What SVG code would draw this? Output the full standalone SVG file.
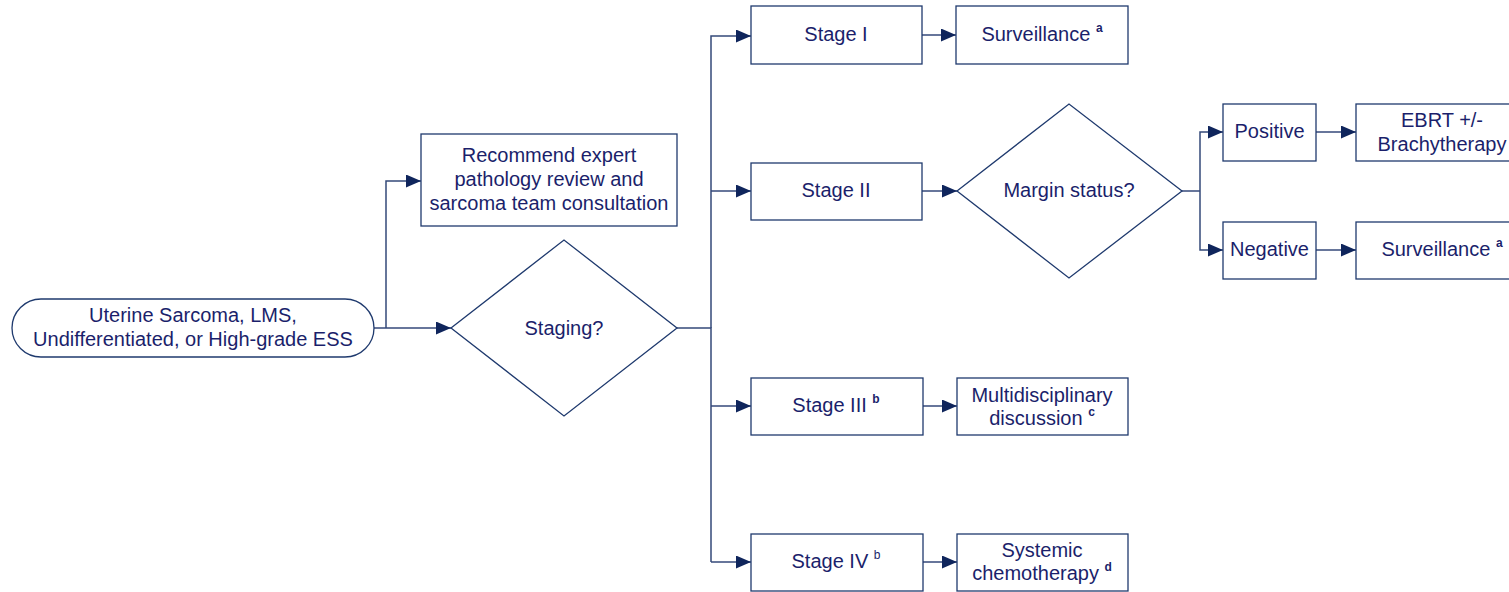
<svg xmlns="http://www.w3.org/2000/svg" width="1509" height="592" viewBox="0 0 1509 592">
<defs>
<marker id="ah" markerUnits="userSpaceOnUse" markerWidth="15" markerHeight="13" refX="15" refY="6.5" orient="auto">
<path d="M0,0 L15,6.5 L0,13 z" fill="#0f255c"/>
</marker>
<style>
.box{fill:#fff;stroke:#1f3a6e;stroke-width:1.3}
.t{font-family:"Liberation Sans",Arial,sans-serif;font-size:20px;fill:#1b1f6b;text-anchor:middle}
.sup{font-size:12px;font-weight:bold}
.supn{font-size:12px}
.c{fill:none;stroke:#34497a;stroke-width:1.5;marker-end:url(#ah)}
.cl{fill:none;stroke:#34497a;stroke-width:1.5}
</style>
</defs>
<rect width="1509" height="592" fill="#fff"/>
<g id="connectors">
<path class="c" d="M374,328 H451"/>
<path class="c" d="M386,328 V181 H421"/>
<path class="cl" d="M677,328 H711 V562"/>
<path class="c" d="M711,328 V36 H751"/>
<path class="c" d="M711,191 H751"/>
<path class="c" d="M711,406 H751"/>
<path class="c" d="M711,562 H751"/>
<path class="c" d="M922,35 H956"/>
<path class="c" d="M922,191 H957"/>
<path class="cl" d="M1182,191 H1200"/>
<path class="c" d="M1200,191 V132 H1223"/>
<path class="c" d="M1200,191 V250 H1223"/>
<path class="c" d="M1316,132 H1356"/>
<path class="c" d="M1316,250 H1356"/>
<path class="c" d="M923,406 H957"/>
<path class="c" d="M923,562 H957"/>
</g>
<g id="start">
<rect class="box" x="12" y="299" width="362" height="58" rx="29" ry="29"/>
<text class="t" x="193" y="322">Uterine Sarcoma, LMS,</text>
<text class="t" x="193" y="346">Undifferentiated, or High-grade ESS</text>
</g>
<g id="recommend">
<rect class="box" x="421" y="134" width="256" height="92"/>
<text class="t" x="549" y="162">Recommend expert</text>
<text class="t" x="549" y="186">pathology review and</text>
<text class="t" x="549" y="210">sarcoma team consultation</text>
</g>
<g id="staging">
<polygon class="box" points="451,328 564,240 677,328 564,416"/>
<text class="t" x="564" y="335">Staging?</text>
</g>
<g id="stage1">
<rect class="box" x="751" y="6" width="171" height="58"/>
<text class="t" x="836" y="41">Stage I</text>
</g>
<g id="surv1">
<rect class="box" x="956" y="6" width="172" height="58"/>
<text class="t" x="1042" y="41">Surveillance <tspan class="sup" dy="-9">a</tspan></text>
</g>
<g id="stage2">
<rect class="box" x="751" y="163" width="171" height="57"/>
<text class="t" x="836" y="197">Stage II</text>
</g>
<g id="margin">
<polygon class="box" points="957,191 1069,104 1182,191 1069,278"/>
<text class="t" x="1069" y="197">Margin status?</text>
</g>
<g id="positive">
<rect class="box" x="1223" y="104" width="93" height="57"/>
<text class="t" x="1269.5" y="138">Positive</text>
</g>
<g id="ebrt">
<rect class="box" x="1356" y="104" width="172" height="57"/>
<text class="t" x="1442" y="127">EBRT +/-</text>
<text class="t" x="1442" y="151">Brachytherapy</text>
</g>
<g id="negative">
<rect class="box" x="1223" y="222" width="93" height="57"/>
<text class="t" x="1269.5" y="256">Negative</text>
</g>
<g id="surv2">
<rect class="box" x="1356" y="222" width="172" height="57"/>
<text class="t" x="1442" y="256">Surveillance <tspan class="sup" dy="-9">a</tspan></text>
</g>
<g id="stage3">
<rect class="box" x="751" y="378" width="172" height="57"/>
<text class="t" x="836" y="412">Stage III <tspan class="sup" dy="-9">b</tspan></text>
</g>
<g id="multi">
<rect class="box" x="957" y="378" width="171" height="57"/>
<text class="t" x="1042" y="402">Multidisciplinary</text>
<text class="t" x="1042" y="425">discussion <tspan class="sup" dy="-9">c</tspan></text>
</g>
<g id="stage4">
<rect class="box" x="751" y="534" width="172" height="57"/>
<text class="t" x="836" y="568">Stage IV <tspan class="supn" dy="-9">b</tspan></text>
</g>
<g id="systemic">
<rect class="box" x="957" y="534" width="171" height="57"/>
<text class="t" x="1042" y="557">Systemic</text>
<text class="t" x="1042" y="580">chemotherapy <tspan class="sup" dy="-9">d</tspan></text>
</g>
</svg>
